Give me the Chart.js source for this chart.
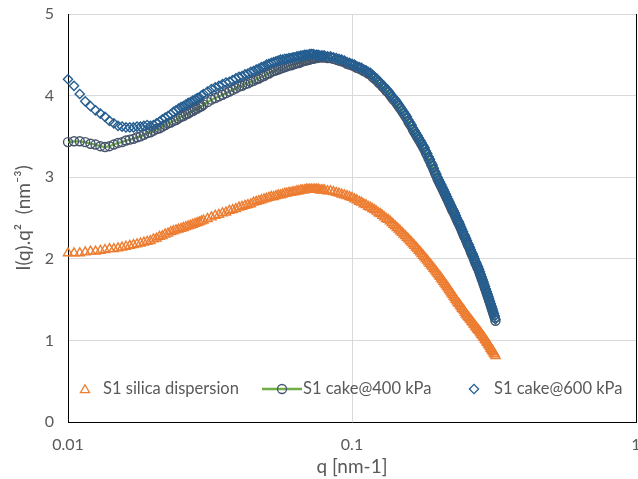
<!DOCTYPE html>
<html>
<head>
<meta charset="utf-8">
<script src="https://cdn.jsdelivr.net/npm/chart.js@4.4.1/dist/chart.umd.min.js"></script>
<style>
  html, body { margin: 0; padding: 0; background: #fff; }
  #wrap { width: 638px; height: 479px; }
</style>
</head>
<body>
<div id="wrap"><canvas id="sasChart" width="638" height="479"></canvas></div>
<script>
// q [nm-1] sample positions (shared by the three curves)
const qValues = [
  0.0100,0.0105,0.0110,0.0115,0.0120,0.0125,0.0130,0.0135,0.0140,0.0145,
  0.0150,0.0155,0.0160,0.0165,0.0170,0.0175,0.0180,0.0185,0.0190,0.0195,
  0.0200,0.0205,0.0210,0.0215,0.0220,0.0225,0.0230,0.0235,0.0240,0.0245,
  0.0250,0.0255,0.0260,0.0265,0.0270,0.0275,0.0280,0.0285,0.0290,0.0295,
  0.0300,
  0.031,0.032,0.033,0.034,0.035,0.036,0.037,0.038,0.039,0.040,
  0.041,0.042,0.043,0.044,0.045,0.046,0.047,0.048,0.049,0.050,
  0.051,0.052,0.053,0.054,0.055,0.056,0.057,0.058,0.059,0.060,
  0.061,0.062,0.063,0.064,0.065,0.066,0.067,0.068,0.069,0.070,
  0.071,0.072,0.073,0.074,0.075,0.076,0.077,0.078,0.079,0.080,
  0.082,0.084,0.086,0.088,0.090,0.092,0.094,0.096,0.098,0.100,
  0.102,0.104,0.106,0.108,0.110,0.112,0.114,0.116,0.118,0.120,
  0.122,0.124,0.126,0.128,0.130,0.132,0.134,0.136,0.138,0.140,
  0.142,0.144,0.146,0.148,0.150,0.152,0.154,0.156,0.158,0.160,
  0.162,0.164,0.166,0.168,0.170,0.172,0.174,0.176,0.178,0.180,
  0.182,0.184,0.186,0.188,0.190,0.192,0.194,0.196,0.198,0.200,
  0.202,0.204,0.206,0.208,0.210,0.212,0.214,0.216,0.218,0.220,
  0.222,0.224,0.226,0.228,0.230,0.232,0.234,0.236,0.238,0.240,
  0.242,0.244,0.246,0.248,0.250,0.252,0.254,0.256,0.258,0.260,
  0.262,0.264,0.266,0.268,0.270,0.272,0.274,0.276,0.278,0.280,
  0.282,0.284,0.286,0.288,0.290,0.292,0.294,0.296,0.298,0.300,
  0.302,0.304,0.306,0.308,0.310,0.312,0.314,0.316,0.318,0.320
];

// I(q).q^2 (nm-3)
const silicaDispersion = [
  2.07,2.07,2.07,2.08,2.09,2.09,2.10,2.11,2.12,2.12,
  2.13,2.14,2.15,2.16,2.17,2.18,2.19,2.20,2.21,2.22,
  2.24,2.25,2.27,2.28,2.30,2.31,2.33,2.34,2.35,2.36,
  2.37,2.38,2.39,2.40,2.41,2.42,2.43,2.44,2.45,2.46,
  2.47,
  2.49,2.51,2.53,2.54,2.56,2.57,2.59,2.60,2.61,2.63,
  2.64,2.65,2.66,2.67,2.69,2.70,2.71,2.72,2.73,2.74,
  2.75,2.76,2.76,2.77,2.78,2.78,2.79,2.80,2.80,2.81,
  2.81,2.82,2.82,2.83,2.83,2.84,2.84,2.84,2.85,2.85,
  2.85,2.85,2.85,2.85,2.85,2.85,2.84,2.84,2.84,2.84,
  2.83,2.83,2.82,2.81,2.80,2.79,2.78,2.77,2.76,2.75,
  2.73,2.72,2.70,2.69,2.67,2.66,2.64,2.63,2.61,2.60,
  2.58,2.56,2.55,2.53,2.51,2.49,2.48,2.46,2.44,2.42,
  2.40,2.38,2.36,2.34,2.32,2.30,2.28,2.26,2.24,2.22,
  2.20,2.18,2.16,2.14,2.12,2.10,2.08,2.06,2.04,2.02,
  2.00,1.98,1.96,1.94,1.92,1.90,1.88,1.86,1.84,1.82,
  1.80,1.78,1.76,1.74,1.72,1.70,1.68,1.66,1.64,1.62,
  1.60,1.58,1.56,1.54,1.52,1.50,1.48,1.46,1.45,1.43,
  1.41,1.39,1.38,1.36,1.34,1.32,1.31,1.29,1.28,1.26,
  1.25,1.23,1.22,1.20,1.19,1.17,1.16,1.14,1.13,1.12,
  1.10,1.09,1.07,1.06,1.04,1.03,1.01,1.00,0.98,0.97,
  0.95,0.94,0.92,0.90,0.89,0.87,0.86,0.84,0.83,0.81
];

const cake400 = [
  3.43,3.44,3.44,3.43,3.41,3.40,3.38,3.37,3.38,3.40,
  3.42,3.43,3.45,3.46,3.47,3.49,3.50,3.52,3.54,3.55,
  3.57,3.59,3.60,3.62,3.64,3.66,3.67,3.69,3.70,3.72,
  3.74,3.75,3.77,3.78,3.80,3.81,3.83,3.84,3.86,3.87,
  3.89,
  3.92,3.95,3.97,3.99,4.01,4.03,4.05,4.07,4.09,4.11,
  4.12,4.14,4.15,4.17,4.18,4.20,4.21,4.23,4.24,4.26,
  4.27,4.29,4.30,4.31,4.32,4.33,4.34,4.35,4.36,4.37,
  4.37,4.38,4.39,4.40,4.40,4.41,4.42,4.43,4.43,4.44,
  4.44,4.45,4.45,4.46,4.46,4.47,4.47,4.47,4.47,4.47,
  4.46,4.46,4.45,4.44,4.43,4.42,4.41,4.39,4.38,4.37,
  4.36,4.34,4.33,4.32,4.30,4.29,4.27,4.26,4.23,4.21,
  4.19,4.16,4.14,4.11,4.09,4.06,4.04,4.01,3.98,3.95,
  3.93,3.90,3.87,3.84,3.81,3.78,3.75,3.72,3.68,3.65,
  3.62,3.58,3.55,3.52,3.49,3.46,3.43,3.40,3.37,3.34,
  3.30,3.27,3.23,3.20,3.16,3.13,3.09,3.05,3.02,2.98,
  2.95,2.92,2.89,2.86,2.83,2.80,2.77,2.74,2.71,2.68,
  2.65,2.62,2.59,2.57,2.54,2.51,2.48,2.45,2.43,2.40,
  2.37,2.34,2.31,2.28,2.26,2.23,2.20,2.17,2.15,2.12,
  2.09,2.06,2.04,2.01,1.98,1.95,1.93,1.90,1.88,1.85,
  1.82,1.79,1.76,1.73,1.70,1.67,1.64,1.61,1.58,1.55,
  1.52,1.49,1.46,1.43,1.40,1.37,1.34,1.31,1.28,1.24
];

const cake600 = [
  4.20,4.12,4.02,3.93,3.87,3.82,3.78,3.74,3.69,3.66,
  3.63,3.62,3.61,3.61,3.61,3.62,3.62,3.63,3.64,3.63,
  3.64,3.66,3.68,3.71,3.73,3.75,3.77,3.80,3.82,3.84,
  3.86,3.87,3.89,3.91,3.92,3.94,3.95,3.97,3.98,4.00,
  4.02,
  4.05,4.08,4.10,4.12,4.14,4.16,4.17,4.19,4.21,4.23,
  4.24,4.26,4.27,4.29,4.30,4.32,4.33,4.35,4.36,4.38,
  4.39,4.40,4.41,4.42,4.43,4.44,4.44,4.45,4.45,4.46,
  4.46,4.47,4.47,4.48,4.48,4.49,4.49,4.50,4.50,4.50,
  4.51,4.51,4.51,4.50,4.50,4.50,4.49,4.49,4.49,4.49,
  4.48,4.48,4.47,4.46,4.45,4.44,4.43,4.41,4.40,4.39,
  4.38,4.36,4.35,4.34,4.32,4.31,4.29,4.28,4.25,4.23,
  4.21,4.18,4.16,4.13,4.11,4.08,4.06,4.03,4.00,3.97,
  3.95,3.92,3.89,3.86,3.83,3.80,3.77,3.74,3.70,3.67,
  3.64,3.60,3.57,3.54,3.51,3.48,3.45,3.42,3.39,3.36,
  3.32,3.29,3.25,3.22,3.18,3.15,3.11,3.07,3.04,3.00,
  2.97,2.94,2.91,2.88,2.85,2.82,2.79,2.76,2.73,2.70,
  2.67,2.64,2.61,2.59,2.56,2.53,2.50,2.47,2.45,2.42,
  2.39,2.36,2.33,2.30,2.28,2.25,2.22,2.19,2.17,2.14,
  2.11,2.08,2.06,2.03,2.00,1.97,1.95,1.92,1.90,1.87,
  1.84,1.81,1.78,1.75,1.72,1.69,1.66,1.63,1.60,1.57,
  1.54,1.51,1.48,1.45,1.42,1.39,1.36,1.33,1.30,1.26
];

const seriesNames = ['S1 silica dispersion', 'S1 cake@400 kPa', 'S1 cake@600 kPa'];
const xTickValues = [0.01, 0.1, 1];
const xTickLabels = ['0.01', '0.1', '1'];

const ORANGE = '#ED7D31';
const GREEN = '#70AD47';
const SLATE = '#44546A';
const BLUE = '#255E91';
const TEXT = '#595959';
const FONT = 'Lato, "Open Sans", sans-serif';

const toPoints = ys => qValues.map((q, i) => ({ x: q, y: ys[i] }));

function marker(ctx, style, r, x, y, color, lw) {
  ctx.save();
  ctx.strokeStyle = color;
  ctx.lineWidth = lw;
  ctx.beginPath();
  if (style === 'triangle') {
    ctx.moveTo(x, y - r);
    ctx.lineTo(x + r * Math.sin(2 * Math.PI / 3), y - r * Math.cos(2 * Math.PI / 3));
    ctx.lineTo(x - r * Math.sin(2 * Math.PI / 3), y - r * Math.cos(2 * Math.PI / 3));
    ctx.closePath();
  } else if (style === 'circle') {
    ctx.arc(x, y, r, 0, Math.PI * 2);
  } else {
    ctx.moveTo(x - r, y); ctx.lineTo(x, y - r); ctx.lineTo(x + r, y); ctx.lineTo(x, y + r);
    ctx.closePath();
  }
  ctx.stroke();
  ctx.restore();
}

// legend sits inside the plot, just above the x axis
const insideLegend = {
  id: 'insideLegend',
  afterDatasetsDraw(chart) {
    const { ctx, chartArea } = chart;
    const x0 = chartArea.left;
    const y = chartArea.bottom - 33;
    ctx.save();
    ctx.font = '16.5px ' + FONT;
    ctx.fillStyle = TEXT;
    ctx.textBaseline = 'middle';
    ctx.textAlign = 'left';

    marker(ctx, 'triangle', 5.3, x0 + 17, y + 1, ORANGE, 1.3);
    ctx.fillText(seriesNames[0], x0 + 35, y);

    ctx.strokeStyle = GREEN;
    ctx.lineWidth = 2.5;
    ctx.beginPath();
    ctx.moveTo(x0 + 194, y); ctx.lineTo(x0 + 234, y);
    ctx.stroke();
    marker(ctx, 'circle', 4.5, x0 + 214, y, SLATE, 1.3);
    ctx.fillText(seriesNames[1], x0 + 235, y);

    marker(ctx, 'rectRot', 4.6, x0 + 406, y, BLUE, 1.3);
    ctx.fillText(seriesNames[2], x0 + 426, y);
    ctx.restore();
  }
};

const config = {
  type: 'scatter',
  data: {
    datasets: [
      {
        label: seriesNames[0],
        data: toPoints(silicaDispersion),
        pointStyle: 'triangle',
        pointRadius: 5.3,
        pointBorderWidth: 1.4,
        pointBorderColor: ORANGE,
        pointBackgroundColor: 'rgba(0,0,0,0)',
        showLine: false,
        clip: false,
        order: 2
      },
      {
        label: seriesNames[1],
        data: toPoints(cake400),
        pointStyle: 'circle',
        pointRadius: 4.5,
        pointBorderWidth: 1.4,
        pointBorderColor: SLATE,
        pointBackgroundColor: 'rgba(0,0,0,0)',
        showLine: true,
        borderColor: GREEN,
        borderWidth: 2.25,
        tension: 0,
        clip: false,
        order: 1
      },
      {
        label: seriesNames[2],
        data: toPoints(cake600),
        pointStyle: 'rectRot',
        pointRadius: 4.6,
        pointBorderWidth: 1.4,
        pointBorderColor: BLUE,
        pointBackgroundColor: 'rgba(0,0,0,0)',
        showLine: false,
        clip: false,
        order: 0
      }
    ]
  },
  options: {
    responsive: false,
    animation: false,
    devicePixelRatio: 1,
    layout: { autoPadding: false, padding: { top: 14, right: 2, left: 0, bottom: 0 } },
    plugins: {
      legend: { display: false },
      tooltip: { enabled: false }
    },
    scales: {
      x: {
        type: 'logarithmic',
        position: 'bottom',
        min: 0.01,
        max: 1,
        afterBuildTicks: s => { s.ticks = xTickValues.map(v => ({ value: v })); },
        afterFit: s => { s.height = 57; s.paddingLeft = 0; s.paddingRight = 0; },
        ticks: {
          callback: (v, i) => xTickLabels[i],
          autoSkip: false,
          maxRotation: 0,
          padding: 13,
          color: TEXT,
          font: { family: FONT, size: 16 }
        },
        grid: {
          drawTicks: false,
          lineWidth: 1,
          color: c => {
            if (!c.tick) return '#D9D9D9';
            if (c.tick.value === 0.01) return 'rgba(0,0,0,0)';
            if (c.tick.value === 1) return '#000000';
            return '#D9D9D9';
          }
        },
        border: { color: '#000000', width: 1 },
        title: {
          display: true,
          text: 'q [nm-1]',
          color: TEXT,
          font: { family: FONT, size: 19 },
          padding: { top: 0, bottom: 1 }
        }
      },
      y: {
        type: 'linear',
        min: 0,
        max: 5,
        afterFit: s => { s.width = 68; s.paddingTop = 0; s.paddingBottom = 0; },
        ticks: {
          stepSize: 1,
          padding: 14,
          color: TEXT,
          font: { family: FONT, size: 16 }
        },
        grid: {
          drawTicks: false,
          lineWidth: 1,
          color: c => (c.tick && c.tick.value === 0) ? 'rgba(0,0,0,0)' : '#D9D9D9'
        },
        border: { color: '#000000', width: 1 },
        title: {
          display: true,
          text: 'I(q).q²  (nm⁻³)',
          color: TEXT,
          font: { family: FONT, size: 19 },
          padding: { top: 12, bottom: 0 }
        }
      }
    }
  },
  plugins: [insideLegend]
};

const sasChart = new Chart(document.getElementById('sasChart'), config);
</script>
</body>
</html>
